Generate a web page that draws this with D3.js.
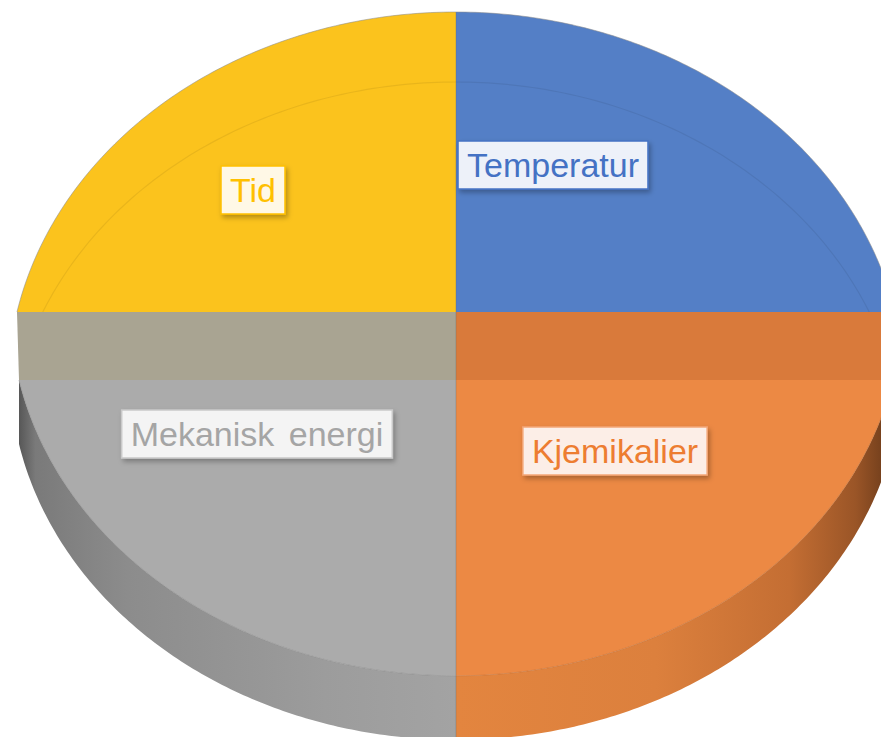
<!DOCTYPE html>
<html>
<head>
<meta charset="utf-8">
<script src="https://cdn.jsdelivr.net/npm/d3@7"></script>
<style>
  html, body { margin: 0; padding: 0; background: #ffffff; }
  svg { display: block; }
</style>
</head>
<body>
<div id="chart"></div>
<script>
// ---- data ----
const categories = ["Temperatur", "Kjemikalier", "Mekanisk energi", "Tid"];
const values = [25, 25, 25, 25];
const faceColors = ["#547FC6", "#EC8944", "#ABABAB", "#FBC31D"];
const labelTextColors = ["#4472C4", "#ED7D31", "#A5A5A5", "#FFC000"];
const labelFills = ["#EDF1F9", "#FCEEE7", "#F4F4F4", "#FFF8E6"];
const labelBorders = ["#4472C4", "#F4A677", "#C9C9C9", "#FFC000"];
const bandColors = { left: "#A9A492", right: "#D97A3B" };

// ---- layout ----
const W = 881, H = 737;
const CX = 456;           // pie centre x
const YT = 312;           // cut line of upper (far) half
const YB = 380;           // cut line of lower (near) half
const A = 439, B = 360;   // upper half radii (perspective)
const A2 = 437, B2 = 355; // lower half radii
const K = 0.2;            // perspective factor
const DEPTH = 64;         // side wall depth
const labelCenters = [[553, 165], [615, 451], [257, 434], [253, 190]];
const fontSize = 34;

function proj(x, u, top) {
  if (top) { const d = 1 + K * u; return [CX + A * x / d, YT - B * u / d]; }
  const v = Math.abs(u); const d = 1 + K * v;
  return [CX + A2 * x / d, YB + B2 * v / d];
}

const svg = d3.select("#chart").append("svg").attr("width", W).attr("height", H);
const defs = svg.append("defs");

const f = defs.append("filter").attr("id", "shadow").attr("x", "-20%").attr("y", "-30%").attr("width", "140%").attr("height", "160%");
f.append("feDropShadow").attr("dx", 2).attr("dy", 3).attr("stdDeviation", 2.5).attr("flood-color", "#000").attr("flood-opacity", 0.28);

const gGray = defs.append("linearGradient").attr("id", "sideGray").attr("gradientUnits", "userSpaceOnUse")
  .attr("x1", 18).attr("x2", CX).attr("y1", 0).attr("y2", 0);
[[0, "#555"], [0.04, "#7a7a7a"], [0.25, "#8c8c8c"], [0.7, "#9c9c9c"], [1, "#a3a3a3"]]
  .forEach(([o, c]) => gGray.append("stop").attr("offset", o).attr("stop-color", c));
const gOr = defs.append("linearGradient").attr("id", "sideOrange").attr("gradientUnits", "userSpaceOnUse")
  .attr("x1", CX).attr("x2", 900).attr("y1", 0).attr("y2", 0);
[[0, "#E3853F"], [0.45, "#DC803D"], [0.75, "#C46E33"], [0.9, "#9a5527"], [1, "#5e3316"]]
  .forEach(([o, c]) => gOr.append("stop").attr("offset", o).attr("stop-color", c));
const sideFills = [null, "url(#sideOrange)", "url(#sideGray)", null];

const pie = d3.pie().sort(null).startAngle(0).endAngle(2 * Math.PI);
const arcs = pie(values).map((d, i) => {
  const mid = (d.startAngle + d.endAngle) / 2;
  const top = Math.cos(mid) >= 0;
  const pts = d3.range(0, 121).map(j => {
    const a = d.startAngle + (d.endAngle - d.startAngle) * j / 120;
    return proj(Math.sin(a), Math.cos(a), top);
  });
  return { d, i, top, pts };
});

const line = d3.line();

// side walls of the near slices
const gSide = svg.append("g");
arcs.filter(a => !a.top).forEach(a => {
  const lower = a.pts.map(p => [p[0], p[1] + DEPTH]).reverse();
  gSide.append("path").attr("d", line(a.pts.concat(lower)) + "Z")
    .attr("fill", sideFills[a.i]).attr("stroke", "none");
});

// top faces of near slices
const gFaces = svg.append("g");
arcs.filter(a => !a.top).forEach(a => {
  const c = proj(0, 0, false);
  gFaces.append("path").attr("d", line([c].concat(a.pts)) + "Z")
    .attr("fill", faceColors[a.i]);
  gFaces.append("path").attr("d", line(a.pts))
    .attr("fill", "none").attr("stroke", d3.color(faceColors[a.i]).darker(0.6)).attr("stroke-width", 0.8).attr("opacity", 0.7);
});

// band between the two halves (cut faces)
const lt = proj(-1, 0, true), lb = proj(-1, 0, false);
const rt = proj(1, 0, true), rb = proj(1, 0, false);
gFaces.append("path").attr("d", line([lt, [CX, YT], [CX, YB], lb]) + "Z").attr("fill", bandColors.left);
gFaces.append("path").attr("d", line([[CX, YT], rt, rb, [CX, YB]]) + "Z").attr("fill", bandColors.right);

// top faces of far slices
const gTop = svg.append("g");
const clip = defs.append("clipPath").attr("id", "topClip");
arcs.filter(a => a.top).forEach(a => {
  const c = proj(0, 0, true);
  const dPath = line([c].concat(a.pts)) + "Z";
  gTop.append("path").attr("d", dPath).attr("fill", faceColors[a.i]);
  clip.append("path").attr("d", dPath);
});
// faint inner rim of far half
const rim = d3.range(0, 181).map(j => {
  const a = -Math.PI / 2 + Math.PI * j / 180;
  const p = proj(Math.sin(a), Math.cos(a), true);
  return [p[0], p[1] + 70];
});
gTop.append("path").attr("d", line(rim)).attr("clip-path", "url(#topClip)")
  .attr("fill", "none").attr("stroke", "#000").attr("stroke-opacity", 0.07).attr("stroke-width", 1.2);
// outer edge of far half
const outer = d3.range(0, 181).map(j => {
  const a = -Math.PI / 2 + Math.PI * j / 180;
  return proj(Math.sin(a), Math.cos(a), true);
});
gTop.append("path").attr("d", line(outer)).attr("fill", "none")
  .attr("stroke", "#8c8c8c").attr("stroke-width", 0.8).attr("stroke-opacity", 0.7);
// centre divider
svg.append("line").attr("x1", CX).attr("x2", CX).attr("y1", proj(0, 1, true)[1]).attr("y2", H)
  .attr("stroke", "#6b6b6b").attr("stroke-opacity", 0.35).attr("stroke-width", 1);

// labels
const gLab = svg.append("g").attr("font-family", "Liberation Sans, Arial, sans-serif").attr("font-size", fontSize);
categories.forEach((name, i) => {
  const [lx, ly] = labelCenters[i];
  const g = gLab.append("g").attr("transform", `translate(${lx},${ly})`);
  const rect = g.append("rect");
  const t = g.append("text").attr("text-anchor", "middle").attr("y", fontSize * 0.35)
    .attr("fill", labelTextColors[i]).attr("word-spacing", name.includes(" ") ? 5 : 0).text(name);
  const bb = t.node().getBBox();
  const padX = 9, h = 48;
  rect.attr("x", -bb.width / 2 - padX).attr("y", -h / 2).attr("width", bb.width + 2 * padX).attr("height", h)
    .attr("fill", labelFills[i]).attr("stroke", labelBorders[i]).attr("stroke-width", 1.5)
    .attr("filter", "url(#shadow)");
});
</script>
</body>
</html>
